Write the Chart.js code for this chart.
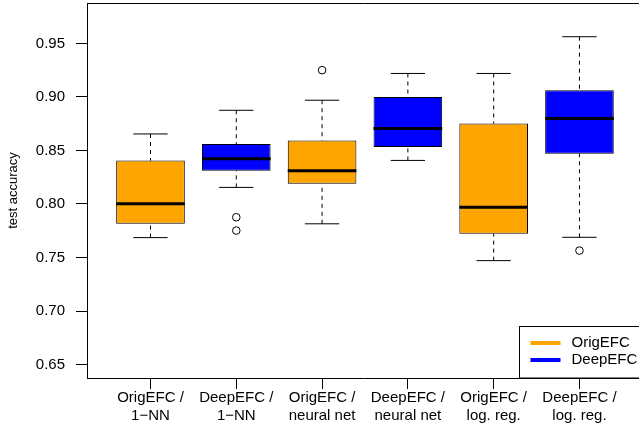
<!DOCTYPE html>
<html><head><meta charset="utf-8">
<script src="https://cdn.jsdelivr.net/npm/chart.js@4"></script>
<style>html,body{margin:0;padding:0;background:#fff;overflow:hidden}</style>
</head><body>
<canvas id="c" width="639" height="425"></canvas>
<script>
// ---- data ----
const categories = [["OrigEFC /","1\u2212NN"],["DeepEFC /","1\u2212NN"],["OrigEFC /","neural net"],["DeepEFC /","neural net"],["OrigEFC /","log. reg."],["DeepEFC /","log. reg."]];
const methods = ["OrigEFC","DeepEFC","OrigEFC","DeepEFC","OrigEFC","DeepEFC"];
const whiskerLow  = [0.7686, 0.8155, 0.7815, 0.8407, 0.7471, 0.7689];
const q1          = [0.7815, 0.8311, 0.8189, 0.8532, 0.7721, 0.8470];
const median      = [0.8002, 0.8423, 0.8311, 0.8704, 0.7970, 0.8798];
const q3          = [0.8405, 0.8560, 0.8592, 0.9000, 0.8751, 0.9063];
const whiskerHigh = [0.8654, 0.8875, 0.8969, 0.9219, 0.9219, 0.9562];
const outliers    = [[], [0.7876, 0.7752], [0.925], [], [], [0.7565]];
const yTicks = [0.65, 0.70, 0.75, 0.80, 0.85, 0.90, 0.95];
const legendLabels = ["OrigEFC", "DeepEFC"];
const yTitle = "test accuracy";

// ---- styling ----
const COLORS = { OrigEFC: "#FFA500", DeepEFC: "#0000FF" };
const FONT = "'Liberation Sans', Arial, Helvetica, sans-serif";
const X_MIN = 0.26, X_MAX = 6.694, Y_MIN = 0.6375, Y_MAX = 0.9877;

const pos = categories.map((_, i) => i + 1);
function segs(pairs) {
  const out = [];
  pairs.forEach(([a, b]) => { out.push(a, b, { x: a.x, y: null }); });
  return out;
}
const medianData = segs(pos.map((p, i) => [{ x: p - 0.4, y: median[i] }, { x: p + 0.4, y: median[i] }]));
const whiskerData = segs(pos.flatMap((p, i) => [
  [{ x: p, y: whiskerHigh[i] }, { x: p, y: q3[i] }],
  [{ x: p, y: whiskerLow[i] }, { x: p, y: q1[i] }]
]));
const stapleData = segs(pos.flatMap((p, i) => [
  [{ x: p - 0.2, y: whiskerHigh[i] }, { x: p + 0.2, y: whiskerHigh[i] }],
  [{ x: p - 0.2, y: whiskerLow[i] }, { x: p + 0.2, y: whiskerLow[i] }]
]));
const outlierData = pos.flatMap((p, i) => outliers[i].map(v => ({ x: p, y: v })));

const lineDefaults = { type: 'line', showLine: true, pointRadius: 0, pointHoverRadius: 0, borderColor: '#000', fill: false, spanGaps: false, tension: 0, borderCapStyle: 'butt', order: 0 };

function noPad(scale) { scale.paddingLeft = 0; scale.paddingRight = 0; scale.paddingTop = 0; scale.paddingBottom = 0; }

const rLegend = {
  id: 'rLegend',
  afterDraw(chart) {
    const { ctx, chartArea } = chart;
    const left = 519.5, top = 326.5, right = chartArea.right + 5, bottom = chartArea.bottom;
    ctx.save();
    ctx.fillStyle = '#fff';
    ctx.fillRect(left, top, right - left, bottom - top);
    ctx.strokeStyle = '#000';
    ctx.lineWidth = 1;
    ctx.strokeRect(left, top, right - left, bottom - top);
    ctx.font = "15px " + FONT;
    ctx.textBaseline = 'middle';
    ctx.textAlign = 'left';
    legendLabels.forEach((lab, i) => {
      const y = top + 16.5 + i * 17;
      ctx.strokeStyle = COLORS[lab];
      ctx.lineWidth = 4;
      ctx.beginPath(); ctx.moveTo(left + 11, y); ctx.lineTo(left + 41, y); ctx.stroke();
      ctx.fillStyle = '#000';
      ctx.fillText(lab, left + 52, y);
    });
    ctx.restore();
  }
};

new Chart(document.getElementById('c'), {
  type: 'bar',
  data: {
    datasets: [
      Object.assign({}, lineDefaults, { label: 'median', data: medianData, borderWidth: 3 }),
      Object.assign({}, lineDefaults, { label: 'staples', data: stapleData, borderWidth: 1 }),
      Object.assign({}, lineDefaults, { label: 'whiskers', data: whiskerData, borderWidth: 1, borderDash: [4, 4] }),
      { type: 'line', label: 'outliers', data: outlierData, showLine: false, pointStyle: 'circle', pointRadius: 3.8, pointBorderWidth: 1, pointBorderColor: '#000', pointBackgroundColor: 'rgba(0,0,0,0)', order: 0 },
      { type: 'bar', label: 'boxes', data: pos.map((p, i) => ({ x: p, y: [q1[i], q3[i]] })),
        backgroundColor: methods.map(m => COLORS[m]), borderColor: '#000', borderWidth: 1, borderSkipped: false,
        categoryPercentage: 0.8, barPercentage: 1, order: 10 }
    ]
  },
  options: {
    responsive: false,
    animation: false,
    devicePixelRatio: 1,
    events: [],
    layout: { autoPadding: false, padding: { top: 3, left: 0, right: 0, bottom: 0 } },
    plugins: { legend: { display: false }, tooltip: { enabled: false } },
    scales: {
      x: {
        type: 'linear', position: 'bottom', min: X_MIN, max: X_MAX, offset: false,
        afterBuildTicks: s => { s.ticks = pos.map(v => ({ value: v })); },
        afterFit: s => { s.height = 47; noPad(s); },
        grid: { display: true, drawOnChartArea: false, offset: false, tickLength: 11, tickColor: '#000', tickWidth: 1 },
        border: { display: true, color: '#000', width: 1 },
        ticks: { autoSkip: false, maxRotation: 0, minRotation: 0, padding: 0, color: '#000',
          font: { family: FONT, size: 15, lineHeight: 1.2 },
          callback: (v, i) => categories[i] }
      },
      xTop: {
        type: 'linear', position: 'top', min: X_MIN, max: X_MAX,
        afterFit: s => { s.height = 0; noPad(s); },
        grid: { display: false }, ticks: { display: false },
        border: { display: true, color: '#000', width: 1 }
      },
      y: {
        type: 'linear', position: 'left', min: Y_MIN, max: Y_MAX,
        afterBuildTicks: s => { s.ticks = yTicks.map(v => ({ value: v })); },
        afterFit: s => { s.width = 87; noPad(s); },
        grid: { display: true, drawOnChartArea: false, tickLength: 11, tickColor: '#000', tickWidth: 1 },
        border: { display: true, color: '#000', width: 1 },
        ticks: { padding: 11, color: '#000', font: { family: FONT, size: 15 }, callback: v => Number(v).toFixed(2) },
        title: { display: true, text: yTitle, color: '#000', font: { family: FONT, size: 13 }, padding: { top: 6, bottom: 0 } }
      }
    }
  },
  plugins: [rLegend]
});
</script>
</body></html>
